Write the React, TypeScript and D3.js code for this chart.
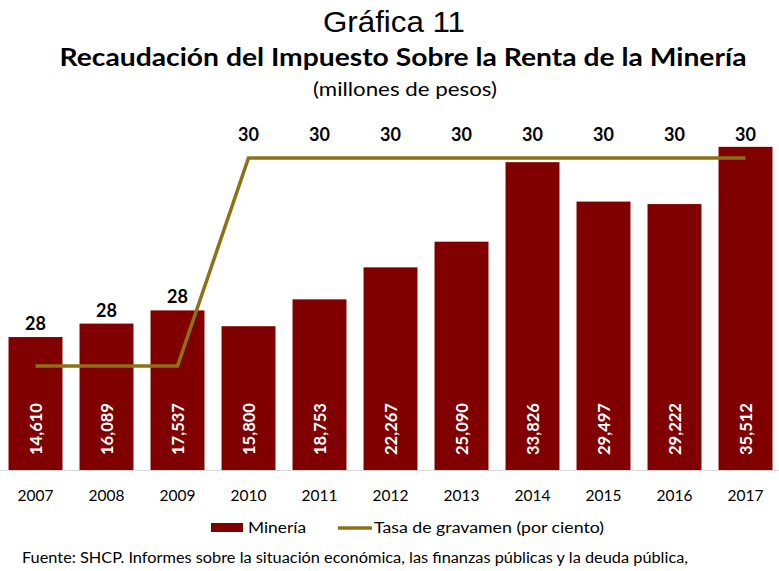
import React from "react";
import * as d3 from "d3";

const years = ["2007","2008","2009","2010","2011","2012","2013","2014","2015","2016","2017"];
const mineria = [14610, 16089, 17537, 15800, 18753, 22267, 25090, 33826, 29497, 29222, 35512];
const tasa = [28, 28, 28, 30, 30, 30, 30, 30, 30, 30, 30];

const W = 779, H = 571;
const BAR = "#800000";
const LINE = "#8c7116";

export default function App() {
  const x = d3.scaleBand().domain(years).range([0, 781]).paddingInner(0.24).paddingOuter(0.12);
  const y = d3.scaleLinear().domain([0, 40000]).range([470, 106]);
  const y2 = d3.scaleLinear().domain([27, 31]).range([470, 54]);
  const fmt = d3.format(",");
  const line = d3.line<number>()
    .x((_, i) => (x(years[i]) as number) + x.bandwidth() / 2)
    .y((d) => y2(d));
  const font = "Lato, 'Open Sans', sans-serif";

  return (
    <svg width={W} height={H} style={{ position: "absolute", left: 0, top: 0, display: "block", background: "#fff" }}>
      <text x={394} y={32} textAnchor="middle" fontFamily="'Liberation Sans', Arial, sans-serif" fontSize={30} fill="#000" textLength={142} lengthAdjust="spacingAndGlyphs">Gráfica 11</text>
      <text x={403} y={66} textAnchor="middle" fontFamily={font} fontWeight="bold" fontSize={24} fill="#000" textLength={687} lengthAdjust="spacingAndGlyphs">Recaudación del Impuesto Sobre la Renta de la Minería</text>
      <text x={405} y={96} textAnchor="middle" fontFamily={font} fontSize={19} fill="#000" textLength={184} lengthAdjust="spacingAndGlyphs">(millones de pesos)</text>

      {mineria.map((v, i) => (
        <rect key={years[i]} x={x(years[i])} y={y(v)} width={x.bandwidth()} height={y(0) - y(v)} fill={BAR} />
      ))}
      <line x1={0} x2={W} y1={470.5} y2={470.5} stroke="#d9d9d9" strokeWidth={1} />

      {mineria.map((v, i) => {
        const cx = (x(years[i]) as number) + x.bandwidth() / 2;
        return (
          <text key={"v" + i} transform={`translate(${cx + 6},455) rotate(-90)`} fontFamily={font} fontWeight="bold" fontSize={17} fill="#fff" textLength={52} lengthAdjust="spacingAndGlyphs">{fmt(v)}</text>
        );
      })}

      <path d={line(tasa) || ""} fill="none" stroke={LINE} strokeWidth={3.5} strokeLinejoin="miter" />

      {tasa.map((t, i) => {
        const cx = (x(years[i]) as number) + x.bandwidth() / 2;
        const by = t === 28 ? y(mineria[i]) - 7 : y2(t) - 17;
        return (
          <text key={"t" + i} x={cx} y={by} textAnchor="middle" fontFamily={font} fontWeight="bold" fontSize={18} fill="#000">{t}</text>
        );
      })}

      {years.map((yr) => (
        <text key={"x" + yr} x={(x(yr) as number) + x.bandwidth() / 2} y={501} textAnchor="middle" fontFamily={font} fontSize={15.5} fill="#000">{yr}</text>
      ))}

      <rect x={211} y={523} width={32} height={9} fill={BAR} />
      <text x={248} y={533} fontFamily={font} fontSize={15.5} fill="#000" textLength={58} lengthAdjust="spacingAndGlyphs">Minería</text>
      <line x1={338} x2={372} y1={528} y2={528} stroke={LINE} strokeWidth={3.5} />
      <text x={374} y={533} fontFamily={font} fontSize={15.5} fill="#000" textLength={230} lengthAdjust="spacingAndGlyphs">Tasa de gravamen (por ciento)</text>

      <text x={22} y={563} fontFamily={font} fontSize={15.5} fill="#000" textLength={666} lengthAdjust="spacingAndGlyphs">Fuente: SHCP. Informes sobre la situación económica, las finanzas públicas y la deuda pública,</text>
    </svg>
  );
}
